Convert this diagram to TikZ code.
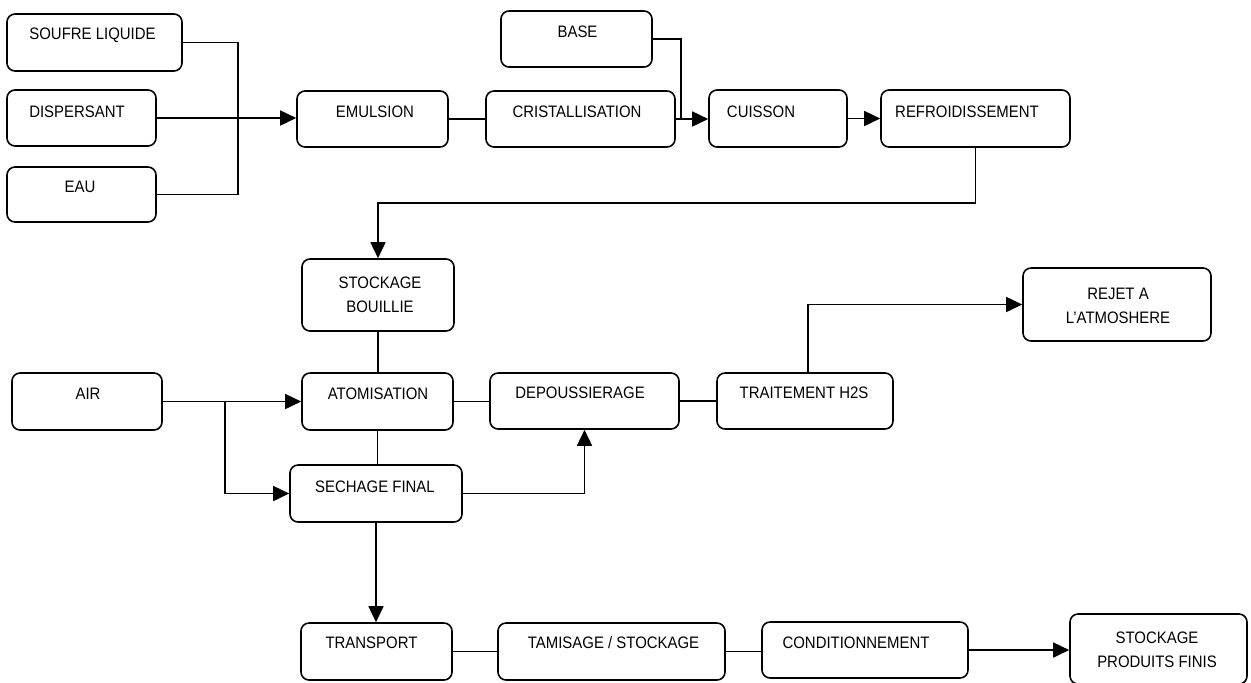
\documentclass[tikz,border=0pt]{standalone}
\usepackage{fontspec}
\setmainfont[FakeStretch=0.9]{Liberation Sans}
\usetikzlibrary{arrows.meta}
\begin{document}
\begin{tikzpicture}[x=0.5pt,y=-0.5pt,
  box/.style={draw=black, line width=0.8pt, rounded corners=4pt, inner sep=0pt, fill=white},
  txt/.style={font=\fontsize{8.3pt}{12pt}\selectfont, inner sep=0pt, align=center},
  conn/.style={draw=black, line width=0.8pt},
  arr/.style={conn, -{Triangle[length=8pt,width=7.5pt]}}]
\useasboundingbox (0,0) rectangle (1251,682);
% boxes
\node[box, minimum width=87.5pt, minimum height=28.5pt] (soufre) at (94.5,42.5) {};
\node[box, minimum width=74.5pt, minimum height=28pt] (disp) at (81.5,118) {};
\node[box, minimum width=74.5pt, minimum height=27.5pt] (eau) at (81.5,194.5) {};
\node[box, minimum width=75.5pt, minimum height=28pt] (emul) at (372.5,119) {};
\node[box, minimum width=94.5pt, minimum height=28pt] (crist) at (580.5,119) {};
\node[box, minimum width=75.5pt, minimum height=28pt] (base) at (576.5,39) {};
\node[box, minimum width=69pt, minimum height=28.5pt] (cuis) at (778,118.5) {};
\node[box, minimum width=94.5pt, minimum height=28.5pt] (refr) at (975.5,118.5) {};
\node[box, minimum width=76pt, minimum height=36pt] (stockb) at (378,295) {};
\node[box, minimum width=75.5pt, minimum height=28.5pt] (atom) at (377.5,401.5) {};
\node[box, minimum width=75pt, minimum height=28.5pt] (air) at (87,401.5) {};
\node[box, minimum width=94.5pt, minimum height=28pt] (depo) at (584.5,401) {};
\node[box, minimum width=88pt, minimum height=28pt] (trait) at (805,401) {};
\node[box, minimum width=94pt, minimum height=36.5pt] (rejet) at (1117,304.5) {};
\node[box, minimum width=86pt, minimum height=28.5pt] (sech) at (376,493.5) {};
\node[box, minimum width=75.5pt, minimum height=28.5pt] (transp) at (376.5,651.5) {};
\node[box, minimum width=113.5pt, minimum height=28.5pt] (tamis) at (611.5,651.5) {};
\node[box, minimum width=103pt, minimum height=28pt] (cond) at (865,650) {};
\node[box, minimum width=88.5pt, minimum height=35pt] (stockpf) at (1158.5,649) {};
% texts
\node[txt] (tsoufre) at (92.5,35) {SOUFRE LIQUIDE};
\node[txt] (tdisp) at (77,112) {DISPERSANT};
\node[txt] (teau) at (80,187) {EAU};
\node[txt] (temul) at (375,112) {EMULSION};
\node[txt] (tcrist) at (577,112) {CRISTALLISATION};
\node[txt] (tbase) at (577.5,32) {BASE};
\node[txt] (tcuis) at (761,112) {CUISSON};
\node[txt] (trefr) at (967,112) {REFROIDISSEMENT};
\node[txt] (tstockb) at (380,295) {STOCKAGE\\BOUILLIE};
\node[txt] (tatom) at (378,394) {ATOMISATION};
\node[txt] (tair) at (88,394) {AIR};
\node[txt] (tdepo) at (580,393) {DEPOUSSIERAGE};
\node[txt] (ttrait) at (804,393) {TRAITEMENT H2S};
\node[txt] (trejet) at (1118,305.5) {REJET A\\L'ATMOSHERE};
\node[txt] (tsech) at (375,487) {SECHAGE FINAL};
\node[txt] (ttransp) at (371.5,643) {TRANSPORT};
\node[txt] (ttamis) at (613.5,643) {TAMISAGE / STOCKAGE};
\node[txt] (tcond) at (856,643) {CONDITIONNEMENT};
\node[txt] (tstockpf) at (1157,649.5) {STOCKAGE\\PRODUITS FINIS};
% junctions
\coordinate (j1) at (238,118);
\coordinate (j2) at (681,118);
\coordinate (j3) at (378,203);
\coordinate (j4) at (225,401.5);
% connectors
\draw[conn] (soufre.east) -| (j1);
\draw[conn] (eau.east) -| (j1);
\draw[arr] (disp.east) -- (disp.east -| emul.west);
\draw[conn] (emul.east) -- (emul.east -| crist.west);
\draw[conn] (base.east) -| (j2);
\draw[arr] (crist.east) -- (crist.east -| cuis.west);
\draw[arr] (cuis.east) -- (cuis.east -| refr.west);
\draw[arr] (refr.south) |- (j3) -- (stockb.north);
\draw[conn] (stockb.south) -- (stockb.south |- atom.north);
\draw[arr] (air.east) -- (atom.west);
\draw[arr] (j4) |- (sech.west);
\draw[conn] (atom.south) -- (atom.south |- sech.north);
\draw[conn] (atom.east) -- (atom.east -| depo.west);
\draw[conn] (depo.east) -- (trait.west);
\draw[arr] (sech.east) -| (depo.south);
\draw[arr] ([xshift=1.5pt]trait.north) |- (rejet.west);
\draw[arr] (sech.south) -- (sech.south |- transp.north);
\draw[conn] (transp.east) -- (tamis.west);
\draw[conn] (tamis.east) -- (tamis.east -| cond.west);
\draw[arr] (cond.east) -- (cond.east -| stockpf.west);
\end{tikzpicture}
\end{document}
